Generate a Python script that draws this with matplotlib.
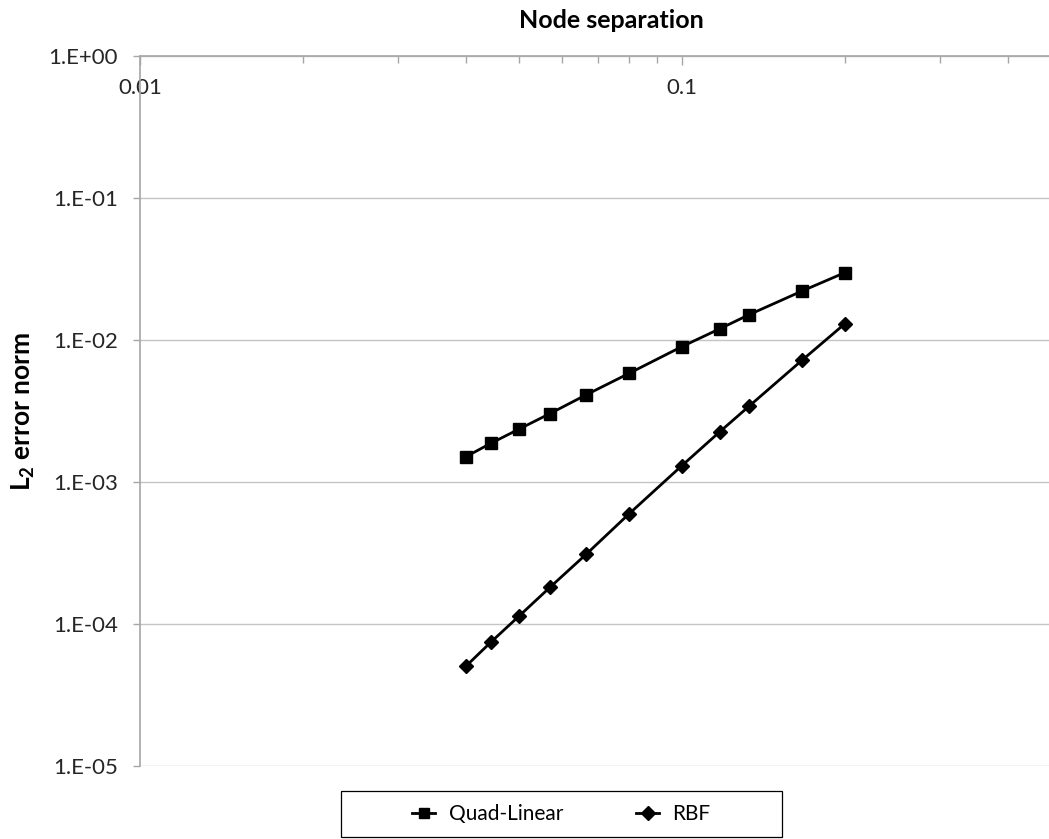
import matplotlib
matplotlib.use("Agg")
import matplotlib.pyplot as plt
from matplotlib.patches import Rectangle
from matplotlib.ticker import LogLocator, NullFormatter, FixedLocator

plt.rcParams['font.family'] = ['Lato', 'DejaVu Sans']
plt.rcParams['mathtext.fontset'] = 'custom'
plt.rcParams['mathtext.rm'] = 'Lato'
plt.rcParams['mathtext.bf'] = 'Lato:bold'

# node separation h = 2/N
node_sep = [0.04, 0.0444, 0.05, 0.0571, 0.0667, 0.08, 0.1, 0.1176, 0.1333, 0.1667, 0.2]
err_quad = [1.51e-3, 1.87e-3, 2.35e-3, 3.03e-3, 4.12e-3, 5.83e-3, 8.97e-3,
            1.20e-2, 1.51e-2, 2.21e-2, 2.98e-2]
err_rbf = [5.06e-5, 7.43e-5, 1.13e-4, 1.81e-4, 3.11e-4, 5.98e-4, 1.30e-3,
           2.26e-3, 3.43e-3, 7.19e-3, 1.30e-2]

x_major = [0.01, 0.1]
x_labels = ['0.01', '0.1']
y_major = [1e-5, 1e-4, 1e-3, 1e-2, 1e-1, 1e0]
y_labels = ['1.E-05', '1.E-04', '1.E-03', '1.E-02', '1.E-01', '1.E+00']

W, H = 1049, 839
fig = plt.figure(figsize=(W / 100, H / 100), dpi=100)
ax = fig.add_axes([140 / W, (H - 766) / H, (W - 140) / W, (766 - 56) / H])

axis_grey = '#a6a6a6'
txt = '#262626'

ax.plot(node_sep, err_quad, color='black', lw=2, marker='s', ms=8,
        label='Quad-Linear')
ax.plot(node_sep, err_rbf, color='black', lw=2, marker='D', ms=7.5,
        label='RBF')

ax.set_xscale('log')
ax.set_yscale('log')
ax.set_xlim(0.01, 0.4765)
ax.set_ylim(1e-5, 1)

ax.set_yticks(y_major)
ax.set_yticklabels(y_labels)
ax.yaxis.set_minor_locator(FixedLocator([]))
ax.set_xticks(x_major)
ax.set_xticklabels(x_labels)
ax.xaxis.set_minor_locator(LogLocator(base=10, subs=range(2, 10)))
ax.xaxis.set_minor_formatter(NullFormatter())

ax.grid(axis='y', which='major', color='#c4c4c4', lw=1)
ax.set_axisbelow(True)

for side in ['right', 'bottom']:
    ax.spines[side].set_visible(False)
for side in ['top', 'left']:
    ax.spines[side].set_color(axis_grey)
    ax.spines[side].set_linewidth(1.2)

ax.tick_params(axis='y', which='major', direction='out', length=5,
               color=axis_grey, width=1, pad=11, labelsize=16, labelcolor=txt)
ax.tick_params(axis='x', which='both', top=True, bottom=False,
               labeltop=True, labelbottom=False, direction='in',
               color=axis_grey, width=1)
ax.tick_params(axis='x', which='major', length=6.5, pad=-16,
               labelsize=16, labelcolor=txt)
ax.tick_params(axis='x', which='minor', length=5)
for lab in ax.get_xticklabels():
    lab.set_va('top')

ax.set_ylabel(r'$\mathbf{L_2}$ error norm', fontsize=19, fontweight='bold',
              color='black', labelpad=8)
fig.text(611 / W, 1 - 21 / H, 'Node separation', ha='center', va='center',
         fontsize=18, fontweight='bold', color='black')

# legend box below the plot
fig.patches.append(Rectangle((341 / W, (H - 837) / H), 441 / W, 46 / H,
                             transform=fig.transFigure, fill=False,
                             edgecolor='black', lw=0.9))
fig.legend(loc='center', bbox_to_anchor=(561.5 / W, 1 - 814 / H), ncol=2,
           frameon=False, fontsize=15, handlelength=1.1, handletextpad=0.65,
           columnspacing=3.5, markerscale=0.95)

fig.savefig('out.png', dpi=100)
